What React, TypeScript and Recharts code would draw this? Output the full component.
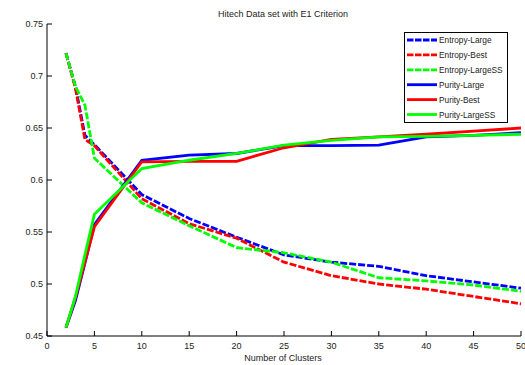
import React from "react";
import { LineChart, Line, XAxis, YAxis } from "recharts";

const clusters = [2, 3, 4, 5, 10, 15, 20, 25, 30, 35, 40, 45, 50];
const entropyLarge = [0.722, 0.690, 0.643, 0.634, 0.586, 0.563, 0.545, 0.528, 0.521, 0.517, 0.508, 0.502, 0.496];
const entropyBest = [0.722, 0.688, 0.639, 0.633, 0.582, 0.558, 0.544, 0.521, 0.508, 0.500, 0.495, 0.488, 0.481];
const entropyLargeSS = [0.722, 0.690, 0.672, 0.621, 0.578, 0.556, 0.535, 0.530, 0.521, 0.506, 0.503, 0.499, 0.493];
const purityLarge = [0.458, 0.484, 0.520, 0.557, 0.619, 0.624, 0.6255, 0.633, 0.633, 0.6335, 0.6415, 0.643, 0.6455];
const purityBest = [0.458, 0.487, 0.521, 0.555, 0.6175, 0.618, 0.618, 0.631, 0.639, 0.6415, 0.644, 0.647, 0.650];
const purityLargeSS = [0.458, 0.488, 0.528, 0.567, 0.611, 0.619, 0.6255, 0.6335, 0.638, 0.6415, 0.642, 0.643, 0.644];

const xTicks = [0, 5, 10, 15, 20, 25, 30, 35, 40, 45, 50];
const yTicks = [0.45, 0.5, 0.55, 0.6, 0.65, 0.7, 0.75];
const yTickLabels = ["0.45", "0.5", "0.55", "0.6", "0.65", "0.7", "0.75"];

const title = "Hitech Data set with E1 Criterion";
const xLabel = "Number of Clusters";

const series = [
  { key: "el", name: "Entropy-Large", values: entropyLarge, color: "#0000ff", dashed: true },
  { key: "eb", name: "Entropy-Best", values: entropyBest, color: "#ff0000", dashed: true },
  { key: "es", name: "Entropy-LargeSS", values: entropyLargeSS, color: "#00ff00", dashed: true },
  { key: "pl", name: "Purity-Large", values: purityLarge, color: "#0000ff", dashed: false },
  { key: "pb", name: "Purity-Best", values: purityBest, color: "#ff0000", dashed: false },
  { key: "ps", name: "Purity-LargeSS", values: purityLargeSS, color: "#00ff00", dashed: false },
];

const data = clusters.map((x, i) => {
  const row: Record<string, number> = { x };
  series.forEach((s) => {
    row[s.key] = s.values[i];
  });
  return row;
});

const FONT = "'Liberation Sans', Arial, Helvetica, sans-serif";
const TICK_LEN = 5;

const LeftTick = (props: any) => {
  const { x, y, payload } = props;
  const idx = yTicks.indexOf(payload.value);
  const label = idx >= 0 ? yTickLabels[idx] : String(payload.value);
  return (
    <g>
      <line x1={x + 4} x2={x + 4 + TICK_LEN} y1={y} y2={y} stroke="#000" strokeWidth={1} />
      <text x={x} y={y + 3} textAnchor="end" fontSize={9} fontFamily={FONT} fill="#222">
        {label}
      </text>
    </g>
  );
};

const BottomTick = (props: any) => {
  const { x, y, payload } = props;
  return (
    <g>
      <line x1={x} x2={x} y1={y - 4} y2={y - 4 - TICK_LEN} stroke="#000" strokeWidth={1} />
      <text x={x} y={y + 9} textAnchor="middle" fontSize={9} fontFamily={FONT} fill="#222">
        {payload.value}
      </text>
    </g>
  );
};

const TopTick = (props: any) => {
  const { x, y } = props;
  return <line x1={x} x2={x} y1={y} y2={y + TICK_LEN} stroke="#000" strokeWidth={1} />;
};

const RightTick = (props: any) => {
  const { x, y } = props;
  return <line x1={x} x2={x - TICK_LEN} y1={y} y2={y} stroke="#000" strokeWidth={1} />;
};

const legendTop = 40;
const legendStep = 14.9;

export default function App() {
  return (
    <div style={{ position: "absolute", left: 0, top: 0, width: 525, height: 365, background: "#fff" }}>
      <LineChart
        width={525}
        height={365}
        data={data}
        margin={{ top: 24, right: 4, left: 0, bottom: 0 }}
      >
        <XAxis
          dataKey="x"
          type="number"
          domain={[0, 50]}
          ticks={xTicks}
          height={29}
          tickSize={0}
          tickMargin={4}
          tickLine={false}
          axisLine={{ stroke: "#000", strokeWidth: 1 }}
          tick={<BottomTick />}
          interval={0}
        />
        <XAxis
          xAxisId="top"
          orientation="top"
          dataKey="x"
          type="number"
          domain={[0, 50]}
          ticks={xTicks}
          height={0}
          tickSize={0}
          tickMargin={0}
          tickLine={false}
          axisLine={{ stroke: "#000", strokeWidth: 1 }}
          tick={<TopTick />}
          interval={0}
        />
        <YAxis
          type="number"
          domain={[0.45, 0.75]}
          ticks={yTicks}
          width={47}
          tickSize={0}
          tickMargin={4}
          tickLine={false}
          axisLine={{ stroke: "#000", strokeWidth: 1 }}
          tick={<LeftTick />}
          interval={0}
          allowDataOverflow
        />
        <YAxis
          yAxisId="right"
          orientation="right"
          type="number"
          domain={[0.45, 0.75]}
          ticks={yTicks}
          width={0}
          tickSize={0}
          tickMargin={0}
          tickLine={false}
          axisLine={{ stroke: "#000", strokeWidth: 1 }}
          tick={<RightTick />}
          interval={0}
          allowDataOverflow
        />
        {series.map((s) => (
          <Line
            key={s.key}
            dataKey={s.key}
            name={s.name}
            type="linear"
            stroke={s.color}
            strokeWidth={2.8}
            strokeDasharray={s.dashed ? "7 2" : undefined}
            dot={false}
            activeDot={false}
            isAnimationActive={false}
          />
        ))}
      </LineChart>
      <svg
        width={525}
        height={365}
        style={{ position: "absolute", left: 0, top: 0, pointerEvents: "none" }}
      >
        <text x={283} y={17} textAnchor="middle" fontSize={9} fontFamily={FONT} fill="#222">
          {title}
        </text>
        <text x={283} y={361} textAnchor="middle" fontSize={9} fontFamily={FONT} fill="#222">
          {xLabel}
        </text>
        <rect x={404.5} y={32.5} width={103} height={90} fill="#fff" stroke="#000" strokeWidth={1} />
        {series.map((s, i) => {
          const cy = legendTop + i * legendStep;
          return (
            <g key={s.key}>
              <line
                x1={407}
                x2={437}
                y1={cy}
                y2={cy}
                stroke={s.color}
                strokeWidth={2.8}
                strokeDasharray={s.dashed ? "6.5 1.5" : undefined}
              />
              <text x={439} y={cy + 3} fontSize={8.3} fontFamily={FONT} fill="#222">
                {s.name}
              </text>
            </g>
          );
        })}
      </svg>
    </div>
  );
}
